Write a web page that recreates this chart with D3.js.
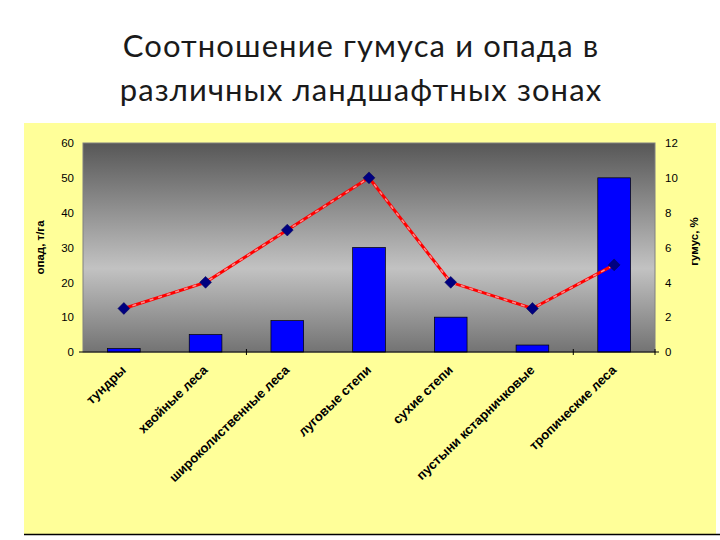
<!DOCTYPE html>
<html><head><meta charset="utf-8">
<script src="https://cdn.jsdelivr.net/npm/d3@7"></script>
<style>body{margin:0;background:#fff}svg{display:block}</style>
</head><body>
<svg id="c" width="720" height="540"></svg>
<script>
const titleLines = ["Соотношение гумуса и опада в", "различных ландшафтных зонах"];
const categories = ["тундры","хвойные леса","широколиственные леса","луговые степи","сухие степи","пустыни кстарничковые","тропические леса"];
const opad = [1, 5, 9, 30, 10, 2, 50];      // опад, т/га (bars, left axis)
const gumus = [2.5, 4, 7, 10, 4, 2.5, 5];    // гумус, % (line, right axis)
const leftTicks = [0,10,20,30,40,50,60];
const rightTicks = [0,2,4,6,8,10,12];
const leftLabel = "опад, т/га";
const rightLabel = "гумус, %";

const svg = d3.select("#c");
const M = {l:83, r:655, t:143, b:352};

// title
svg.append("g").selectAll("text").data(titleLines).join("text")
  .attr("x", 361).attr("y", (d,i)=>57+i*44)
  .attr("text-anchor","middle")
  .attr("font-family","Lato, 'Open Sans', sans-serif")
  .attr("font-size", 31).attr("letter-spacing", 1.1).attr("fill","#1a1a1a")
  .text(d=>d);

// yellow panel
svg.append("rect").attr("x",24).attr("y",123).attr("width",692).attr("height",411).attr("fill","#ffff99");
svg.append("line").attr("x1",24).attr("x2",720).attr("y1",534.5).attr("y2",534.5).attr("stroke","#000").attr("stroke-width",1.5);

// gradient
const defs = svg.append("defs");
const g = defs.append("linearGradient").attr("id","bg").attr("x1",0).attr("y1",0).attr("x2",0).attr("y2",1);
[[0,"#575757"],[0.6,"#c2c2c2"],[1,"#737373"]].forEach(([o,c])=>g.append("stop").attr("offset",o).attr("stop-color",c));

const x = d3.scaleBand().domain(categories).range([M.l,M.r]).paddingInner(0.6).paddingOuter(0.3);
const xc = d => x(d)+x.bandwidth()/2;
const yL = d3.scaleLinear().domain([0,60]).range([M.b,M.t]);
const yR = d3.scaleLinear().domain([0,12]).range([M.b,M.t]);

svg.append("rect").attr("x",M.l).attr("y",M.t).attr("width",M.r-M.l).attr("height",M.b-M.t)
  .attr("fill","url(#bg)").attr("stroke","#808080").attr("stroke-width",1);

// bars
svg.append("g").selectAll("rect").data(opad).join("rect")
  .attr("x",(d,i)=>x(categories[i])).attr("width",x.bandwidth())
  .attr("y",d=>yL(d)).attr("height",d=>yL(0)-yL(d))
  .attr("fill","#0000ff").attr("stroke","#000").attr("stroke-width",0.7);

// axes
const font = "Arial, 'Liberation Sans', sans-serif";
const la = svg.append("g").attr("transform",`translate(${M.l},0)`)
  .call(d3.axisLeft(yL).tickValues(leftTicks).tickSize(0).tickPadding(9));
la.select(".domain").remove();
la.selectAll("text").attr("font-family",font).attr("font-size",11.5).attr("fill","#000");
const ra = svg.append("g").attr("transform",`translate(${M.r},0)`)
  .call(d3.axisRight(yR).tickValues(rightTicks).tickSize(0).tickPadding(10));
ra.select(".domain").remove();
ra.selectAll("text").attr("font-family",font).attr("font-size",11.5).attr("fill","#000");

// bottom axis line + ticks
svg.append("line").attr("x1",M.l-4).attr("x2",M.r+4).attr("y1",M.b).attr("y2",M.b).attr("stroke","#000").attr("stroke-width",1);
svg.append("g").selectAll("line").data([2,6,7]).join("line")
  .attr("x1",d=>M.l+d*(M.r-M.l)/categories.length).attr("x2",d=>M.l+d*(M.r-M.l)/categories.length)
  .attr("y1",M.b-3).attr("y2",M.b+3).attr("stroke","#000");

// category labels
svg.append("g").selectAll("text").data(categories).join("text")
  .attr("transform",d=>`translate(${xc(d)+3},${M.b+19}) rotate(-44)`)
  .attr("text-anchor","end").attr("font-family",font).attr("font-weight","bold")
  .attr("font-size",13).attr("fill","#000").text(d=>d);

// axis titles
svg.append("text").attr("transform",`translate(44,${(M.t+M.b)/2}) rotate(-90)`)
  .attr("text-anchor","middle").attr("font-family",font).attr("font-weight","bold").attr("font-size",11.5).text(leftLabel);
svg.append("text").attr("transform",`translate(698,${(M.t+M.b)/2-6}) rotate(-90)`)
  .attr("text-anchor","middle").attr("font-family",font).attr("font-weight","bold").attr("font-size",11.5).text(rightLabel);

// line
const line = d3.line().x((d,i)=>xc(categories[i])).y(d=>yR(d));
svg.append("path").datum(gumus).attr("d",line).attr("fill","none").attr("stroke","#ff0000").attr("stroke-width",3);
svg.append("path").datum(gumus).attr("d",line).attr("fill","none").attr("stroke","#ffffff").attr("stroke-width",1.5)
  .attr("stroke-dasharray","4,5").attr("opacity",0.55);

// markers
svg.append("g").selectAll("path").data(gumus).join("path")
  .attr("transform",(d,i)=>`translate(${xc(categories[i])},${yR(d)}) rotate(45)`)
  .attr("d",d3.symbol(d3.symbolSquare,70)())
  .attr("fill","#000080").attr("stroke","#00005a").attr("stroke-width",0.5);
</script>
</body></html>
